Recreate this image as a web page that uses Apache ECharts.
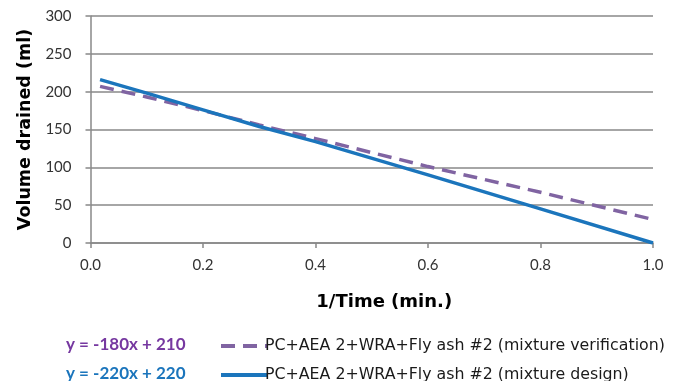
<!DOCTYPE html>
<html><head><meta charset="utf-8">
<script src="https://cdn.jsdelivr.net/npm/echarts@6/dist/echarts.min.js"></script>
<style>html,body{margin:0;padding:0;background:#fff}#c{width:683px;height:381px}</style>
</head><body><div id="c"></div>
<script>
const xTicks = [0, 0.2, 0.4, 0.6, 0.8, 1.0];
const yTicks = [0, 50, 100, 150, 200, 250, 300];
const verifX = [0.017, 0.1, 0.2, 0.3, 0.4, 0.6, 0.8, 1.0];
const verifY = [207, 193, 175, 156, 138, 101, 67, 31];
const designX = [0.017, 0.1, 0.2, 0.3, 0.4, 0.6, 0.8, 1.0];
const designY = [216, 198, 176, 154, 134, 90, 45, 0];
const seriesNames = ['PC+AEA 2+WRA+Fly ash #2 (mixture verification)', 'PC+AEA 2+WRA+Fly ash #2 (mixture design)'];
const equations = ['y = -180x + 210', 'y = -220x + 220'];
const colors = ['#8064A2', '#1B75BC'];
const eqColors = ['#7638A0', '#1B75BC'];
const tickFont = 'Lato, "DejaVu Sans", sans-serif';
const textFont = '"DejaVu Sans", sans-serif';

const legendBase = {
  orient: 'horizontal', left: 214, itemWidth: 46, itemHeight: 14,
  itemStyle: {color: 'transparent', borderColor: 'transparent', borderWidth: 0},
  lineStyle: {width: 4},
  textStyle: {fontFamily: textFont, fontSize: 15.8, color: '#1a1a1a', padding: [0, 0, 0, -7]}
};

const chart = echarts.init(document.getElementById('c'));
chart.setOption({
  animation: false,
  grid: {left: 90.5, right: 30, top: 16, bottom: 138},
  xAxis: {
    type: 'value', min: 0, max: 1, interval: 0.2,
    name: '1/Time (min.)', nameLocation: 'middle', nameGap: 50,
    nameTextStyle: {fontFamily: textFont, fontWeight: 'bold', fontSize: 18, color: '#000', padding: [0, 0, 0, 25]},
    axisLine: {lineStyle: {color: '#888', width: 1.5}},
    axisTick: {show: true, length: 5, lineStyle: {color: '#888', width: 1.5}},
    axisLabel: {fontFamily: tickFont, fontSize: 15, color: '#333', margin: 15, formatter: v => v.toFixed(1)},
    splitLine: {show: false}
  },
  yAxis: {
    type: 'value', min: 0, max: 300, interval: 50,
    name: 'Volume drained (ml)', nameLocation: 'middle', nameGap: 48,
    nameTextStyle: {fontFamily: textFont, fontWeight: 'bold', fontSize: 17.5, color: '#000'},
    axisLine: {show: true, lineStyle: {color: '#888', width: 1.5}},
    axisTick: {show: true, length: 5, lineStyle: {color: '#888', width: 1.5}},
    axisLabel: {fontFamily: tickFont, fontSize: 15, color: '#333', margin: 19},
    splitLine: {lineStyle: {color: '#888', width: 1.5}}
  },
  legend: [
    Object.assign({}, legendBase, {top: 333, data: [seriesNames[0]]}),
    Object.assign({}, legendBase, {top: 362, data: [seriesNames[1]]})
  ],
  graphic: [
    {type: 'text', left: 66, top: 336, style: {text: equations[0], fill: eqColors[0], font: 'bold 17px Lato, sans-serif'}},
    {type: 'text', left: 66, top: 365, style: {text: equations[1], fill: eqColors[1], font: 'bold 17px Lato, sans-serif'}}
  ],
  series: [
    {name: seriesNames[0], type: 'line', showSymbol: false, symbol: 'none',
     lineStyle: {color: colors[0], width: 3.5, type: [14, 8]}, itemStyle: {color: colors[0]},
     data: verifX.map((x, i) => [x, verifY[i]])},
    {name: seriesNames[1], type: 'line', showSymbol: false, symbol: 'none',
     lineStyle: {color: colors[1], width: 3.5}, itemStyle: {color: colors[1]},
     data: designX.map((x, i) => [x, designY[i]])}
  ]
});
</script></body></html>
